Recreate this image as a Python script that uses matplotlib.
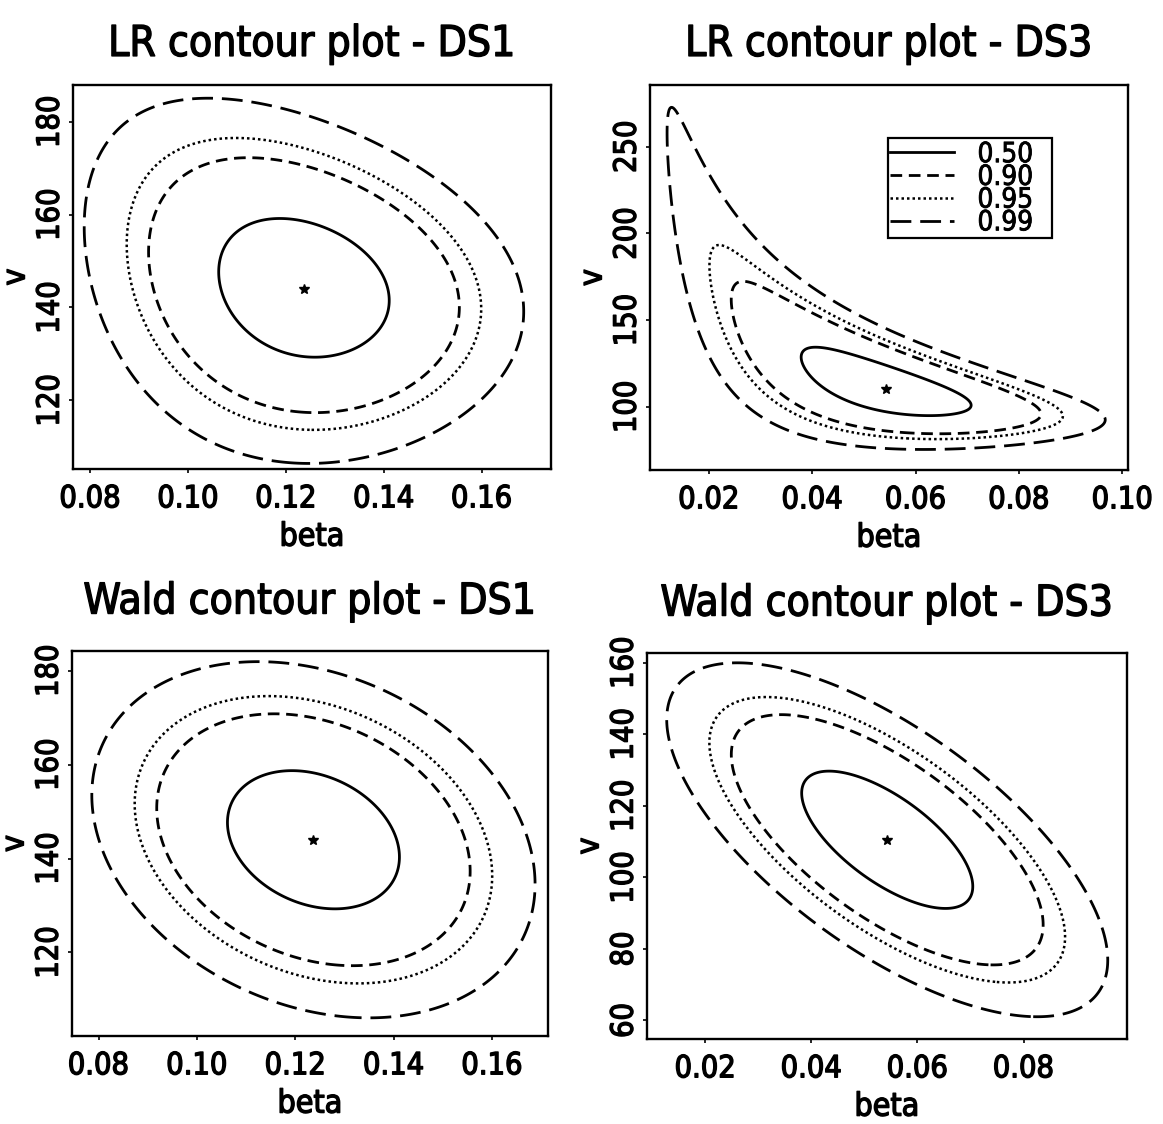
import numpy as np
import matplotlib.pyplot as plt
from matplotlib import font_manager
from matplotlib import patheffects
from matplotlib.lines import Line2D


def narrow_font():
    # prefer a narrow Helvetica-like face, then any condensed sans
    fonts = font_manager.fontManager.ttflist
    names = {f.name for f in fonts}
    for fam in ['Liberation Sans Narrow', 'Arial Narrow', 'Nimbus Sans Narrow']:
        if fam in names:
            return fam, 'normal', 1.05
    for fam in ['DejaVu Sans', 'Noto Sans', 'Open Sans', 'Roboto']:
        if any(f.name == fam and str(f.stretch) == 'condensed' for f in fonts):
            return fam, 'condensed', 1.0
    return 'Liberation Sans', 'normal', 0.92


font_name, font_stretch, fs = narrow_font()
plt.rcParams['font.family'] = [font_name, 'DejaVu Sans']
plt.rcParams['font.stretch'] = font_stretch

# confidence levels of the regions and their legend text
conf_levels = [0.50, 0.90, 0.95, 0.99]
level_labels = ['0.50', '0.90', '0.95', '0.99']

# maximum likelihood estimates (beta, v)
ds1_mle = [0.1237, 144.0]
ds3_mle = [0.0543, 110.5]

# Wald: standard errors of (beta, v) and their correlation
ds1_wald_se = [0.01485, 12.5]
ds1_wald_rho = -0.25
ds3_wald_se = [0.0137, 16.3]
ds3_wald_rho = -0.68

# LR deviance is close to quadratic in (beta, v * beta**power)
ds1_lr_power = 0.5
ds1_lr_se = [0.0148, 4.85]
ds1_lr_rho = 0.44
ds3_lr_power = 0.95
ds3_lr_se = [0.01397, 1.25]
ds3_lr_rho = 0.82

# axis ranges and ticks
ds1_lr_xlim, ds1_lr_ylim = (0.0765, 0.1742), (105.2, 187.9)
ds3_lr_xlim, ds3_lr_ylim = (0.0086, 0.1011), (63.5, 285.5)
ds1_wald_xlim, ds1_wald_ylim = (0.0746, 0.1714), (102.2, 184.2)
ds3_wald_xlim, ds3_wald_ylim = (0.0090, 0.0995), (54.8, 162.7)
ds1_xticks = [0.08, 0.10, 0.12, 0.14, 0.16]
ds3_lr_xticks = [0.02, 0.04, 0.06, 0.08, 0.10]
ds3_wald_xticks = [0.02, 0.04, 0.06, 0.08]
ds1_yticks = [120, 140, 160, 180]
ds3_lr_yticks = [100, 150, 200, 250]
ds3_wald_yticks = [60, 80, 100, 120, 140, 160]

line_styles = ['-', (0, (4.2, 2.4)), (0, (1.0, 1.2)), (0, (7.5, 3.2))]
line_widths = [2.0, 2.0, 1.8, 2.0]

# slightly heavier strokes for the lettering
heavy = [patheffects.withStroke(linewidth=1.0, foreground='k')]


def quad_form(x, y, x0, y0, se, rho):
    u = (x - x0) / se[0]
    w = (y - y0) / se[1]
    return (u * u - 2 * rho * u * w + w * w) / (1 - rho * rho)


def draw_panel(ax, title, mle, se, rho, xlim, ylim, xticks, yticks,
               power=None, title_pad=21):
    b = np.linspace(xlim[0], xlim[1], 500)
    v = np.linspace(ylim[0], ylim[1], 500)
    B, V = np.meshgrid(b, v)
    if power is None:
        D = quad_form(B, V, mle[0], mle[1], se, rho)
    else:
        D = quad_form(B, V * B ** power, mle[0], mle[1] * mle[0] ** power, se, rho)
    # chi-square (2 df) cut-offs
    cut = [-2 * np.log(1 - p) for p in conf_levels]
    ax.contour(B, V, D, levels=cut, colors='k',
               linestyles=line_styles, linewidths=line_widths)
    ax.plot(mle[0], mle[1], marker='*', color='k', ms=7, ls='none')

    ax.set_xlim(xlim)
    ax.set_ylim(ylim)
    ax.set_xticks(xticks)
    ax.set_xticklabels([f'{t:.2f}' for t in xticks])
    ax.set_yticks(yticks)
    ax.set_yticklabels([f'{t:d}' for t in yticks])
    ax.tick_params(direction='out', length=3, width=1.2, labelsize=22 * fs)
    ax.tick_params(axis='x', pad=8)
    ax.tick_params(axis='y', pad=3, labelrotation=90)
    for lab in ax.get_yticklabels():
        lab.set_va('center')
    for lab in ax.get_xticklabels() + ax.get_yticklabels():
        lab.set_path_effects(heavy)
    for s in ax.spines.values():
        s.set_linewidth(1.7)
    ax.set_xlabel('beta', fontsize=23 * fs, labelpad=6, path_effects=heavy)
    ax.set_ylabel('v', fontsize=23 * fs, labelpad=3, path_effects=heavy)
    ax.set_title(title, fontsize=30.5 * fs, pad=title_pad, path_effects=heavy)


fig = plt.figure(figsize=(11.63, 11.24), dpi=100)
ax1 = fig.add_axes([0.0628, 0.5827, 0.4110, 0.3416])
ax2 = fig.add_axes([0.5589, 0.5818, 0.4110, 0.3425])
ax3 = fig.add_axes([0.0619, 0.0783, 0.4093, 0.3425])
ax4 = fig.add_axes([0.5563, 0.0756, 0.4127, 0.3434])

draw_panel(ax1, 'LR contour plot - DS1', ds1_mle, ds1_lr_se, ds1_lr_rho,
           ds1_lr_xlim, ds1_lr_ylim, ds1_xticks, ds1_yticks, power=ds1_lr_power)
draw_panel(ax2, 'LR contour plot - DS3', ds3_mle, ds3_lr_se, ds3_lr_rho,
           ds3_lr_xlim, ds3_lr_ylim, ds3_lr_xticks, ds3_lr_yticks, power=ds3_lr_power)
draw_panel(ax3, 'Wald contour plot - DS1', ds1_mle, ds1_wald_se, ds1_wald_rho,
           ds1_wald_xlim, ds1_wald_ylim, ds1_xticks, ds1_yticks, title_pad=27)
draw_panel(ax4, 'Wald contour plot - DS3', ds3_mle, ds3_wald_se, ds3_wald_rho,
           ds3_wald_xlim, ds3_wald_ylim, ds3_wald_xticks, ds3_wald_yticks, title_pad=27)

handles = [Line2D([], [], color='k', ls=ls, lw=lw) for ls, lw in zip(line_styles, line_widths)]
leg = ax2.legend(handles, level_labels, loc='upper left', mode='expand',
                 bbox_to_anchor=(0.498, 0.862, 0.343, 0.0),
                 prop={'size': 20 * fs}, frameon=True, fancybox=False,
                 framealpha=1, edgecolor='k', handlelength=2.3, handletextpad=0.85,
                 labelspacing=-0.19, borderpad=0.07, borderaxespad=0)
leg.get_frame().set_linewidth(1.6)
for t in leg.get_texts():
    t.set_path_effects([patheffects.withStroke(linewidth=0.6, foreground='k')])

fig.savefig('out.png', dpi=100, facecolor='white')
